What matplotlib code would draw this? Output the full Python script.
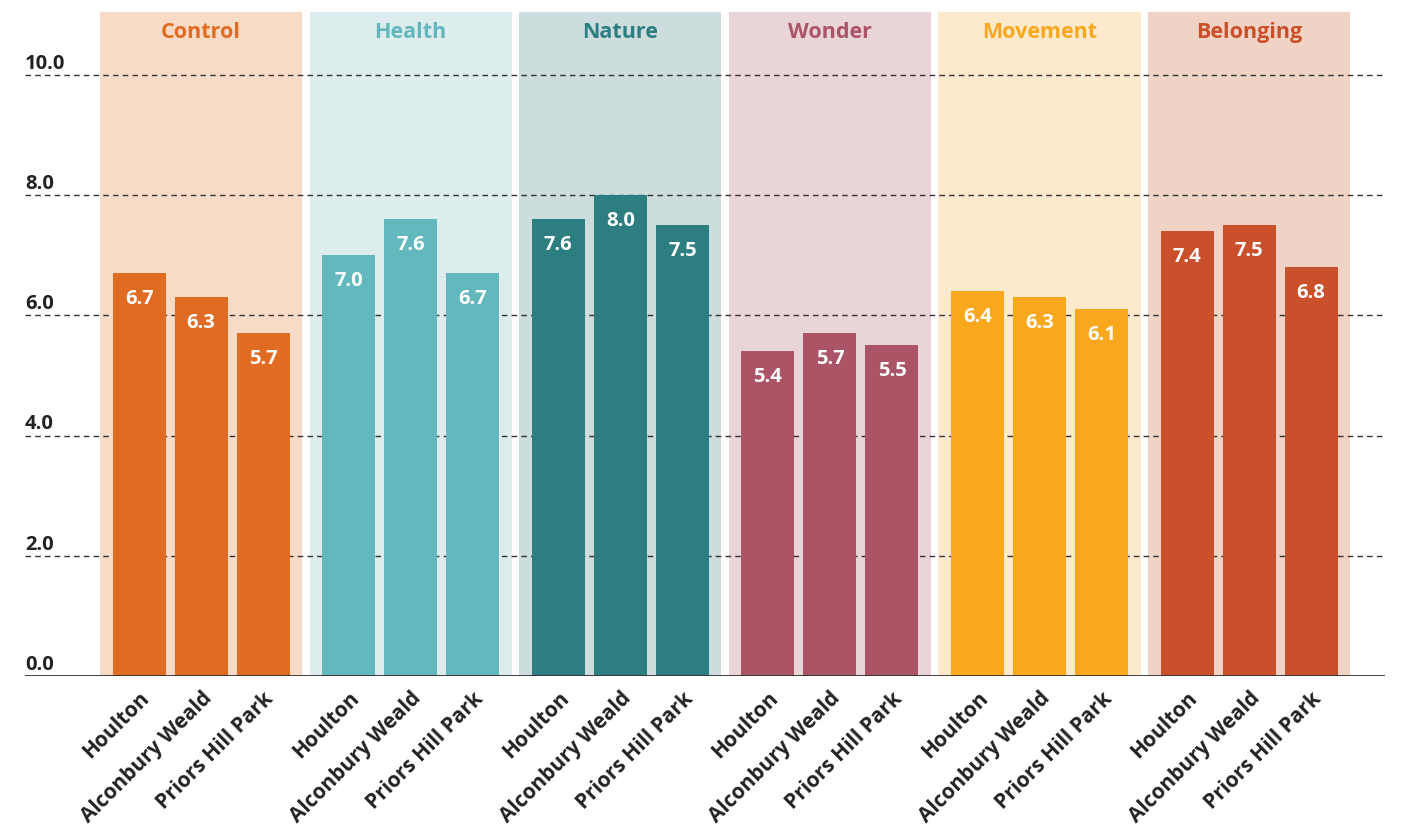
import matplotlib.pyplot as plt
from matplotlib.patches import Rectangle

plt.rcParams['font.family'] = ['Open Sans', 'DejaVu Sans']

categories = ['Control', 'Health', 'Nature', 'Wonder', 'Movement', 'Belonging']
sites = ['Houlton', 'Alconbury Weald', 'Priors Hill Park']
values = [
    [6.7, 6.3, 5.7],
    [7.0, 7.6, 6.7],
    [7.6, 8.0, 7.5],
    [5.4, 5.7, 5.5],
    [6.4, 6.3, 6.1],
    [7.4, 7.5, 6.8],
]
bar_colors = ['#E06C24', '#62B8BC', '#2C7E80', '#AA5466', '#F9A81E', '#C9502A']
panel_colors = ['#F8DBC6', '#DDECEC', '#CDDCDC', '#E9D4D7', '#FDE9CB', '#F0D3C4']
yticks = [0, 2, 4, 6, 8, 10]

group_gap = 3.38
panel_w = 3.26
bar_w = 0.855

fig = plt.figure(figsize=(14.01, 8.28), dpi=100)
ax = fig.add_axes([0.01784, 0.1824, 0.9707, 0.8019])
ax.set_xlim(-2.84, 5 * group_gap + 2.19)
ax.set_ylim(0, 11.05)

# dashed grid, drawn above panels but below bars
for t in yticks[1:]:
    ax.axhline(t, color='#333333', lw=1, ls=(0, (4, 3)), zorder=2)
ax.axhline(0, color='#333333', lw=1.3, zorder=4)

xpos, xlabels = [], []
for i, cat in enumerate(categories):
    c = i * group_gap
    ax.add_patch(Rectangle((c - panel_w / 2, 0), panel_w, 11.05,
                           facecolor=panel_colors[i], edgecolor='none', zorder=1))
    ax.text(c, 10.72, cat, ha='center', va='center', fontsize=15.5,
            fontweight='bold', color=bar_colors[i], zorder=5)
    for j, v in enumerate(values[i]):
        x = c + (j - 1)
        ax.bar(x, v, width=bar_w, color=bar_colors[i], zorder=3)
        ax.annotate(f'{v:.1f}', (x, v), xytext=(0, -17.5), textcoords='offset points',
                    ha='center', va='center', color='white', fontsize=14.5,
                    fontweight='bold', zorder=5)
        xpos.append(x)
        xlabels.append(sites[j])

ax.set_xticks(xpos)
ax.set_xticklabels(xlabels, rotation=45, ha='right', rotation_mode='anchor',
                   fontsize=15, fontweight='bold', color='#222222')
ax.tick_params(axis='x', length=0, pad=8)
ax.set_yticks([])
for t in yticks:
    ax.text(0, t + 0.12, f'{t:.1f}', transform=ax.get_yaxis_transform(),
            ha='left', va='baseline', fontsize=14.5, fontweight='bold', color='#222222')

for s in ax.spines.values():
    s.set_visible(False)

fig.savefig('out.png', dpi=100)
